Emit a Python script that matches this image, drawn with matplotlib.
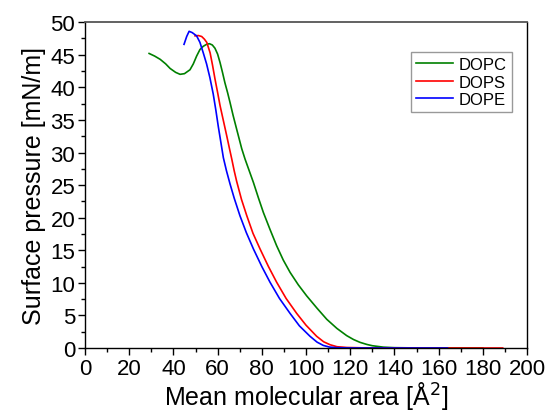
import matplotlib
matplotlib.use("Agg")
import matplotlib.pyplot as plt
from matplotlib.ticker import MultipleLocator

plt.rcParams['font.family'] = ['Liberation Sans', 'DejaVu Sans']

# Pi-A isotherms
dopc_area = [29, 31.5, 34, 36.5, 38.5, 41, 43, 45, 47.5, 49, 50.5, 52, 53.5, 55,
             56.3, 57.6, 58.8, 60, 61.1, 62.2, 63.3, 64.5, 65.6, 67, 68.6, 70.9,
             72.4, 74.3, 76.2, 78.5, 80.7, 83.7, 86.7, 89.7, 92.8, 96.5, 100.3,
             105, 109.4, 114, 118.4, 121.5, 124.4, 127.5, 130, 135, 140, 150,
             160, 170, 180]
dopc_pressure = [45.2, 44.8, 44.3, 43.6, 42.9, 42.3, 42.0, 42.1, 42.7, 43.6, 44.8,
                 45.8, 46.3, 46.6, 46.7, 46.5, 46.0, 45.1, 43.8, 42.3, 40.7, 39.2,
                 37.7, 35.7, 33.6, 30.6, 29.0, 27.2, 25.4, 23.0, 20.8, 18.2, 15.7,
                 13.5, 11.6, 9.7, 8.0, 6.1, 4.4, 3.0, 1.9, 1.3, 0.87, 0.55, 0.35,
                 0.13, 0.05, 0.01, 0.0, 0.0, 0.0]

dops_area = [49.8, 51.3, 52.8, 54, 55.1, 56.6, 57.7, 58.8, 60, 61.1, 62.6, 64.1,
             65.3, 66.4, 67.5, 68.6, 70.8, 73.2, 76, 79.2, 83, 86.7, 91, 95.8,
             100, 104.8, 108, 110.9, 114, 118.4, 125, 135, 150, 165, 180, 189]
dops_pressure = [47.9, 47.95, 47.8, 47.4, 46.9, 45.3, 43.4, 41.3, 39.2, 37.2, 34.9,
                 32.6, 30.7, 29.0, 27.2, 25.6, 22.8, 20.3, 17.6, 15.2, 12.5, 10.1,
                 7.6, 5.3, 3.5, 1.8, 0.95, 0.5, 0.2, 0.08, 0.03, 0.01, 0.0, 0.0,
                 0.0, 0.0]

dope_area = [44.8, 46, 47.1, 48.5, 50.5, 52, 53.5, 55, 56.5, 58, 59.2, 60.3,
             61.5, 62.6, 64, 65.6, 67.5, 70.1, 73, 76.2, 80, 83.7, 88, 92.8, 97,
             101.8, 105, 107.8, 110.5, 113.8, 120, 130, 145, 164]
dope_pressure = [46.6, 47.8, 48.6, 48.4, 47.9, 46.9, 45.3, 43.6, 41.5, 39.0, 36.5,
                 34.0, 31.5, 29.2, 27.2, 25.2, 23.0, 20.3, 17.7, 15.2, 12.5, 10.1,
                 7.6, 5.3, 3.4, 1.8, 0.9, 0.4, 0.15, 0.05, 0.01, 0.0, 0.0, 0.0]

fig = plt.figure(figsize=(5.45, 4.14), dpi=100)
ax = fig.add_axes([0.156, 0.157, 0.811, 0.787])

ax.plot(dopc_area, dopc_pressure, color="#008000", lw=1.2, label="DOPC")
ax.plot(dops_area, dops_pressure, color="#ff0000", lw=1.2, label="DOPS")
ax.plot(dope_area, dope_pressure, color="#0000ff", lw=1.2, label="DOPE")

ax.set_xlim(0, 200)
ax.set_ylim(0, 50)
ax.xaxis.set_major_locator(MultipleLocator(20))
ax.xaxis.set_minor_locator(MultipleLocator(10))
ax.yaxis.set_major_locator(MultipleLocator(5))
ax.yaxis.set_minor_locator(MultipleLocator(2.5))
ax.tick_params(which="major", direction="out", length=5, width=1, labelsize=16, pad=2)
ax.tick_params(which="minor", direction="out", length=3, width=1)

for side in ["left", "bottom", "right"]:
    ax.spines[side].set_color("black")
    ax.spines[side].set_linewidth(1.0)
ax.spines["top"].set_color("#555555")
ax.spines["top"].set_linewidth(1.3)

ax.set_xlabel("Mean molecular area [Å$^2$]", fontsize=18, labelpad=0)
ax.set_ylabel("Surface pressure [mN/m]", fontsize=18, labelpad=3)

leg = ax.legend(loc="upper right", bbox_to_anchor=(0.966, 0.908), borderaxespad=0,
                fontsize=12, fancybox=False, edgecolor="#808080", handlelength=2.2,
                handletextpad=0.35, labelspacing=0.15, borderpad=0.3)
leg.get_frame().set_linewidth(1.0)

fig.savefig("out.png", dpi=100)
